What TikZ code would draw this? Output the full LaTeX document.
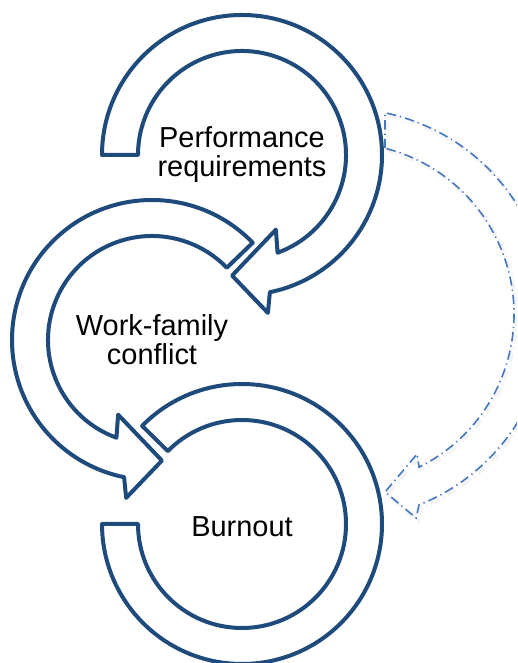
\documentclass[tikz,border=0pt]{standalone}
\usepackage{fontspec}
\setmainfont{Liberation Sans}
\usetikzlibrary{calc,positioning}
\definecolor{ringblue}{HTML}{1F4A7C}
\definecolor{loopblue}{HTML}{4478C0}
\tikzset{ring/.style={draw=ringblue,fill=white,line width=3pt,line join=round},
  feedback/.style={draw=loopblue,line width=1.2pt,dash pattern=on 7pt off 3pt on 1pt off 3pt,
    preaction={draw=black!30,opacity=0.15,line width=3pt,dash pattern=on 7pt off 3pt on 1pt off 3pt,
      transform canvas={shift={(1.6pt,-1.8pt)}}}},
  label/.style={inner sep=0pt,align=center,font=\fontsize{21.7}{21.7}\selectfont}}
\begin{document}
\begin{tikzpicture}[x=0.75pt,y=0.75pt]
\useasboundingbox (0,0) rectangle (517,663);
\clip (0,0) rectangle (517,663);
%\draw[step=20,help lines](0,0)grid(517,663);
    \coordinate (T) at (242,508);
    \coordinate (M) at (152,323);
    \coordinate (B) at (242,139);
    \coordinate (D) at (343,349);
    % feedback loop
    \draw[feedback,shift={(D)}] (75.8:171)--(78.2:205.5) arc[start angle=78.2,end angle=-68.3,radius=205.5]
      --(-70.3:216.7)--(-76.7:182.9)--(-62.1:158.4)--(-63.6:171) arc[start angle=-63.6,end angle=75.8,radius=171]--cycle;
    % rings
    \draw[ring,shift={(B)}] (135.5:104)--(135.5:140) arc[start angle=135.5,end angle=-180,radius=140]
      --(180:104) arc[start angle=-180,end angle=135.5,radius=104]--cycle;
    \draw[ring,shift={(M)}] (44:104)--(44:140) arc[start angle=44,end angle=258.5,radius=140]
      --(260.7:160)--(274.7:121)--(245.6:82)--(250:104) arc[start angle=250,end angle=44,radius=104]--cycle;
    \draw[ring,shift={(T)}] (180:104)--(180:140) arc[start angle=180,end angle=-78.5,radius=140]
      --(-80.7:160)--(-94.7:121)--(-65.6:82)--(-70:104) arc[start angle=-70,end angle=180,radius=104]--cycle;
    \node[label] (perf) at (T) {Performance\\requirements};
    \node[label] (wfc) at (M) {Work-family\\conflict};
    \node[label] (burn) at ([yshift=-2]B) {Burnout};
\end{tikzpicture}
\end{document}
